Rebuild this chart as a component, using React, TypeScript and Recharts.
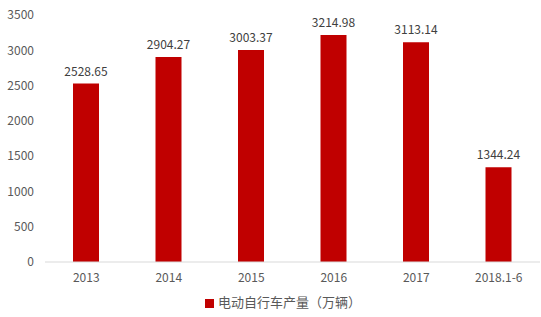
import { BarChart, Bar, XAxis, YAxis, Legend, LabelList } from "recharts";

const years = ["2013", "2014", "2015", "2016", "2017", "2018.1-6"];
const output = [2528.65, 2904.27, 3003.37, 3214.98, 3113.14, 1344.24];
const yTicks = [0, 500, 1000, 1500, 2000, 2500, 3000, 3500];

const data = years.map((year, i) => ({ year, value: output[i] }));

const font = '"Microsoft YaHei", "Noto Sans CJK SC", sans-serif';

export default function App() {
  return (
    <div style={{ position: "absolute", left: 0, top: 0, background: "#fff", fontFamily: font }}>
      <BarChart
        width={541}
        height={317}
        data={data}
        margin={{ top: 15, right: 1, left: 0, bottom: 6 }}
      >
        <XAxis
          dataKey="year"
          axisLine={{ stroke: "#d9d9d9" }}
          tickLine={false}
          tick={{ fontSize: 12, fill: "#595959", fontFamily: font }}
          tickMargin={5}
        />
        <YAxis
          width={45}
          domain={[0, 3500]}
          ticks={yTicks}
          axisLine={false}
          tickLine={false}
          tick={{ fontSize: 12, fill: "#595959", fontFamily: font }}
          tickMargin={5}
        />
        <Legend
          verticalAlign="bottom"
          iconType="square"
          iconSize={9}
          wrapperStyle={{ fontSize: 13, color: "#595959", fontFamily: font, paddingLeft: 18 }}
          formatter={(v) => <span style={{ color: "#595959" }}>{v}</span>}
        />
        <Bar
          dataKey="value"
          name="电动自行车产量（万辆）"
          fill="#c00000"
          barSize={26}
          isAnimationActive={false}
        >
          <LabelList
            dataKey="value"
            position="top"
            offset={8}
            formatter={(v) => Number(v).toFixed(2)}
            style={{ fontSize: 12, fill: "#404040", fontFamily: font }}
          />
        </Bar>
      </BarChart>
    </div>
  );
}
